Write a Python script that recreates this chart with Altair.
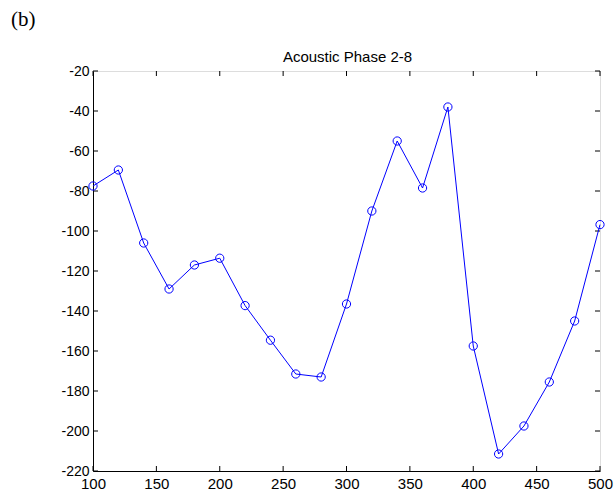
import altair as alt
import pandas as pd

x_vals = [100, 120, 140, 160, 180, 200, 220, 240, 260, 280, 300,
          320, 340, 360, 380, 400, 420, 440, 460, 480, 500]
y_vals = [-77.5, -69.5, -106, -129, -117, -113.6, -137.3, -154.6, -171.5, -173, -136.5,
          -90, -55, -78.5, -38, -157.5, -211.5, -197.5, -175.5, -145, -96.8]
x_ticks = [100, 150, 200, 250, 300, 350, 400, 450, 500]
y_ticks = [-20, -40, -60, -80, -100, -120, -140, -160, -180, -200, -220]
title_text = "Acoustic Phase 2-8"
panel_label = "(b)"

W, H = 507, 400
TL = 5

df = pd.DataFrame({"x": x_vals, "y": y_vals})
dx = pd.DataFrame({"x": x_ticks})
dy = pd.DataFrame({"y": y_ticks})

xs = alt.Scale(domain=[100, 500], nice=False, zero=False)
ys = alt.Scale(domain=[-220, -20], nice=False, zero=False)

hy_expr = "datum.value < 0 ? '-' + abs(datum.value) : '' + datum.value"

x_axis = alt.Axis(values=x_ticks, title=None, ticks=False, grid=False,
                  labelFontSize=15, labelPadding=5, labelFont="Liberation Sans",
                  labelColor="black", domainColor="black", domainWidth=1,
                  labelFlush=False, labelOverlap=False, labelExpr=hy_expr)
y_axis = alt.Axis(values=y_ticks, title=None, ticks=False, grid=False,
                  labelFontSize=14, labelPadding=4, labelFont="Liberation Sans",
                  labelColor="black", domainColor="black", domainWidth=1,
                  labelFlush=False, labelOverlap=False, labelExpr=hy_expr)

def X(f):
    return alt.X(f, scale=xs, axis=x_axis)

def Y(f):
    return alt.Y(f, scale=ys, axis=y_axis)

line = alt.Chart(df).mark_line(color="#0000ff", strokeWidth=1).encode(x=X("x:Q"), y=Y("y:Q"))
pts = alt.Chart(df).mark_point(shape="circle", filled=False, color="#0000ff",
                               size=68, strokeWidth=1, opacity=1).encode(x=X("x:Q"), y=Y("y:Q"))

tick_bottom = alt.Chart(dx).mark_rule(color="black", strokeWidth=1).encode(
    x=X("x:Q"), y=alt.value(H), y2=alt.value(H - TL))
tick_top = alt.Chart(dx).mark_rule(color="black", strokeWidth=1).encode(
    x=X("x:Q"), y=alt.value(0), y2=alt.value(TL))
tick_left = alt.Chart(dy).mark_rule(color="black", strokeWidth=1).encode(
    y=Y("y:Q"), x=alt.value(0), x2=alt.value(TL))
tick_right = alt.Chart(dy).mark_rule(color="black", strokeWidth=1).encode(
    y=Y("y:Q"), x=alt.value(W), x2=alt.value(W - TL))

lab = alt.Chart(pd.DataFrame({"label": [panel_label]})).mark_text(
    font="Liberation Serif", fontSize=21, align="left", baseline="alphabetic", color="black"
).encode(x=alt.value(-82), y=alt.value(-45), text="label:N")

ttl = alt.Chart(pd.DataFrame({"label": [title_text]})).mark_text(
    font="Liberation Sans", fontSize=15, align="center", baseline="alphabetic", color="black"
).encode(x=alt.value(W / 2 + 1), y=alt.value(-9), text="label:N")

chart = alt.layer(tick_bottom, tick_top, tick_left, tick_right, line, pts, lab, ttl).properties(
    width=W, height=H,
    autosize=alt.AutoSizeParams(type="none"),
    padding={"left": 93, "top": 71, "right": 15, "bottom": 25},
).configure_view(stroke="black", strokeWidth=1).configure(background="white")

chart.save("out.html", embed_options={"renderer": "svg", "actions": False})
